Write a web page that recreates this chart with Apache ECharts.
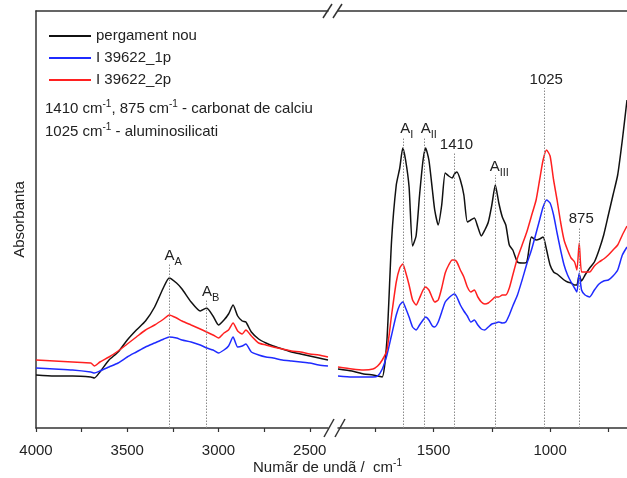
<!DOCTYPE html>
<html>
<head>
<meta charset="utf-8">
<script src="https://cdn.jsdelivr.net/npm/echarts@6/dist/echarts.min.js"></script>
<style>
  html, body { margin: 0; padding: 0; background: #fff; }
  #chart { width: 627px; height: 478px; }
</style>
</head>
<body>
<div id="chart"></div>
<script>
// wavenumbers (cm-1), left part of the broken axis
const wnLeft = [4000, 3900, 3800, 3700, 3680, 3650, 3600, 3550, 3500, 3450, 3400, 3350, 3300, 3270, 3230, 3200,
  3150, 3100, 3065, 3030, 3000, 2970, 2945, 2920, 2895, 2870, 2850, 2820, 2780, 2740, 2700, 2650, 2600, 2550,
  2500, 2450, 2400]
const blackLeft = [53, 52, 52, 51, 50, 56, 68, 76, 88, 98, 107, 121, 141, 150, 145, 139, 126, 117, 120, 112, 103,
  108, 114, 123, 112, 107, 106, 96, 89, 85, 82, 79, 76, 74, 72, 70, 68]
const blueLeft = [60, 59, 58, 56, 55, 57, 61, 65, 71, 76, 81, 85, 89, 91, 90, 88, 86, 83, 80, 78, 75, 78, 82, 91,
  81, 82, 84, 76, 73, 71, 70, 68, 67, 66, 65, 63, 62]
const redLeft = [68, 67, 66, 65, 62, 66, 71, 77, 84, 91, 98, 103, 109, 113, 110, 107, 103, 99, 96, 93, 90, 95, 98,
  105, 97, 94, 98, 92, 85, 83, 81, 79, 77, 76, 74, 73, 71]

// right part of the broken axis
const wnRight = [1910, 1850, 1800, 1760, 1740, 1720, 1700, 1680, 1660, 1645, 1632, 1620, 1605, 1590, 1575, 1560,
  1545, 1534, 1520, 1505, 1495, 1480, 1465, 1450, 1435, 1420, 1410, 1400, 1385, 1370, 1355, 1340, 1325, 1310,
  1295, 1280, 1265, 1250, 1235, 1220, 1205, 1190, 1175, 1160, 1140, 1120, 1100, 1080, 1060, 1045, 1030, 1015,
  1000, 985, 970, 955, 940, 925, 910, 895, 885, 875, 865, 850, 830, 810, 790, 770, 750, 730, 710, 690, 670]
const blackRight = [59, 57, 54, 53, 52, 51, 88, 188, 243, 260, 280, 268, 241, 182, 192, 233, 268, 280, 268, 238,
  218, 203, 223, 255, 252, 250, 254, 256, 248, 233, 206, 208, 210, 201, 192, 198, 206, 223, 243, 225,
  211, 203, 183, 178, 166, 165, 166, 191, 188, 189, 191, 178, 163, 156, 154, 151, 148, 146, 145, 143,
  143, 153, 147, 153, 160, 166, 178, 193, 213, 233, 253, 288, 328]
const blueRight = [52, 51, 51, 51, 52, 59, 73, 93, 113, 123, 126, 120, 111, 101, 98, 103, 108, 111, 108, 102,
  101, 106, 116, 126, 130, 133, 134, 131, 123, 117, 112, 106, 108, 103, 99, 98, 101, 104, 105, 106,
  105, 106, 113, 122, 133, 148, 164, 178, 195, 208, 221, 228, 225, 213, 195, 178, 163, 153, 146, 140,
  136, 155, 138, 133, 131, 138, 144, 147, 148, 152, 158, 173, 181]
const redRight = [61, 59, 58, 59, 62, 68, 78, 113, 146, 160, 164, 156, 143, 128, 123, 130, 138, 141, 138, 130,
  126, 128, 140, 155, 163, 168, 168, 166, 158, 151, 141, 136, 138, 131, 126, 124, 125, 128, 131, 131,
  133, 133, 140, 153, 170, 183, 196, 212, 228, 248, 268, 278, 272, 248, 228, 206, 188, 178, 170, 166,
  158, 185, 156, 156, 156, 162, 166, 169, 173, 178, 183, 193, 202]

const seriesNames = ['pergament nou', 'I 39622_1p', 'I 39622_2p']
const seriesColors = ['#111111', '#1f2bff', '#ff2020']

const tickLeft = [4000, 3750, 3500, 3250, 3000, 2750, 2500]
const labelLeft = [4000, 3500, 3000, 2500]
const tickRight = [1750, 1500, 1250, 1000, 750]
const labelRight = [1500, 1000]

// band labels: wavenumber, text, subscript, height where the dotted line stops
const peaksLeft = [
  { wn: 3270, main: 'A', sub: 'A', top: 164 },
  { wn: 3065, main: 'A', sub: 'B', top: 128 }
]
const peaksRight = [
  { wn: 1632, main: 'A', sub: 'I', top: 291 },
  { wn: 1538, main: 'A', sub: 'II', top: 291 },
  { wn: 1410, main: '1410', sub: '', top: 275 },
  { wn: 1235, main: 'A', sub: 'III', top: 253 },
  { wn: 1025, main: '1025', sub: '', top: 340 },
  { wn: 875, main: '875', sub: '', top: 201 }
]

const FONT = 'Liberation Sans, Arial, sans-serif'
const pairs = (xs, ys) => xs.map((x, i) => [x, ys[i]])

const peakLines = (peaks) => ({
  silent: true,
  symbol: ['none', 'none'],
  lineStyle: { color: '#8a8a8a', type: [1.5, 1.5], width: 1 },
  label: {
    show: true,
    position: 'end',
    distance: 1,
    color: '#222',
    fontFamily: FONT,
    rich: {
      m: { fontSize: 15, fontFamily: FONT, color: '#222' },
      s: { fontSize: 11, lineHeight: 11, padding: [12, 0, 0, 0], fontFamily: FONT, color: '#222' }
    }
  },
  data: peaks.map(p => [
    { coord: [p.wn, 0] },
    {
      coord: [p.wn, p.top],
      label: {
        formatter: p.sub ? `{m|${p.main}}{s|${p.sub}}` : `{m|${p.main}}`,
        offset: p.sub ? [4, 0] : [2, 0]
      }
    }
  ])
})

const mkSeries = (name, color, grid, xs, ys, peaks) => ({
  name,
  type: 'line',
  xAxisIndex: grid,
  yAxisIndex: grid,
  data: pairs(xs, ys),
  symbol: 'none',
  smooth: 0.2,
  lineStyle: { color, width: 1.5 },
  itemStyle: { color },
  markLine: peaks ? peakLines(peaks) : undefined,
  z: 3
})

const bottomAxis = (grid, min, max, ticks, labels) => ({
  type: 'value',
  gridIndex: grid,
  min, max,
  inverse: true,
  position: 'bottom',
  axisLine: { show: true, onZero: false, lineStyle: { color: '#333', width: 1.5 } },
  axisTick: { show: true, inside: false, length: 4, customValues: ticks, lineStyle: { color: '#333', width: 1.2 } },
  axisLabel: {
    show: true, margin: 15, customValues: labels, fontSize: 15, color: '#222', fontFamily: FONT,
    formatter: v => String(v)
  },
  splitLine: { show: false }
})

const topAxis = (grid, min, max) => ({
  type: 'value',
  gridIndex: grid,
  min, max,
  inverse: true,
  position: 'top',
  axisLine: { show: true, onZero: false, lineStyle: { color: '#333', width: 1.5 } },
  axisTick: { show: false },
  axisLabel: { show: false },
  splitLine: { show: false }
})

const chart = echarts.init(document.getElementById('chart'))

const option = {
  animation: false,
  backgroundColor: '#fff',
  grid: [
    { left: 36, top: 11, width: 292, bottom: 50 },
    { left: 338, top: 11, right: 0, bottom: 50 }
  ],
  legend: {
    data: seriesNames,
    orient: 'vertical',
    left: 49,
    top: 27,
    padding: 0,
    icon: 'rect',
    itemWidth: 42,
    itemHeight: 2,
    itemGap: 4,
    textStyle: { fontSize: 15, lineHeight: 18, color: '#222', fontFamily: FONT }
  },
  xAxis: [
    bottomAxis(0, 2400, 4000, tickLeft, labelLeft),
    bottomAxis(1, 670, 1910, tickRight, labelRight),
    topAxis(0, 2400, 4000),
    topAxis(1, 670, 1910)
  ],
  yAxis: [
    {
      type: 'value', gridIndex: 0, min: 0, max: 417,
      name: 'Absorbanta', nameLocation: 'middle', nameGap: 9, nameRotate: 90,
      nameTextStyle: { fontSize: 15, color: '#222', fontFamily: FONT },
      axisLine: { show: true, lineStyle: { color: '#333', width: 1.5 } },
      axisTick: { show: false }, axisLabel: { show: false }, splitLine: { show: false }
    },
    {
      type: 'value', gridIndex: 1, min: 0, max: 417,
      axisLine: { show: false }, axisTick: { show: false }, axisLabel: { show: false }, splitLine: { show: false }
    }
  ],
  series: [
    mkSeries(seriesNames[0], seriesColors[0], 0, wnLeft, blackLeft, peaksLeft),
    mkSeries(seriesNames[1], seriesColors[1], 0, wnLeft, blueLeft),
    mkSeries(seriesNames[2], seriesColors[2], 0, wnLeft, redLeft),
    mkSeries(seriesNames[0], seriesColors[0], 1, wnRight, blackRight, peaksRight),
    mkSeries(seriesNames[1], seriesColors[1], 1, wnRight, blueRight),
    mkSeries(seriesNames[2], seriesColors[2], 1, wnRight, redRight)
  ],
  graphic: [
    // axis break marks
    { type: 'line', shape: { x1: 323, y1: 18, x2: 332, y2: 4 }, style: { stroke: '#333', lineWidth: 1.5 } },
    { type: 'line', shape: { x1: 333, y1: 18, x2: 342, y2: 4 }, style: { stroke: '#333', lineWidth: 1.5 } },
    { type: 'line', shape: { x1: 324, y1: 437, x2: 334, y2: 419 }, style: { stroke: '#333', lineWidth: 1.5 } },
    { type: 'line', shape: { x1: 335, y1: 437, x2: 345, y2: 419 }, style: { stroke: '#333', lineWidth: 1.5 } },
    {
      type: 'text', left: 45, top: 97,
      style: {
        text: '1410 cm{sup|-1}, 875 cm{sup|-1} - carbonat de calciu\n1025 cm{sup|-1} - aluminosilicati',
        fontSize: 15, lineHeight: 23, fill: '#222', fontFamily: FONT,
        rich: { sup: { fontSize: 10, lineHeight: 10, padding: [0, 0, 9, 0], fontFamily: FONT, fill: '#222' } }
      }
    },
    {
      type: 'text', left: 253, top: 458,
      style: {
        text: 'Numãr de undã /  cm{sup|-1}',
        fontSize: 15, fill: '#222', fontFamily: FONT,
        rich: { sup: { fontSize: 10, lineHeight: 10, padding: [0, 0, 9, 0], fontFamily: FONT, fill: '#222' } }
      }
    }
  ]
}

chart.setOption(option)
window.addEventListener('resize', () => chart.resize())
</script>
</body>
</html>
